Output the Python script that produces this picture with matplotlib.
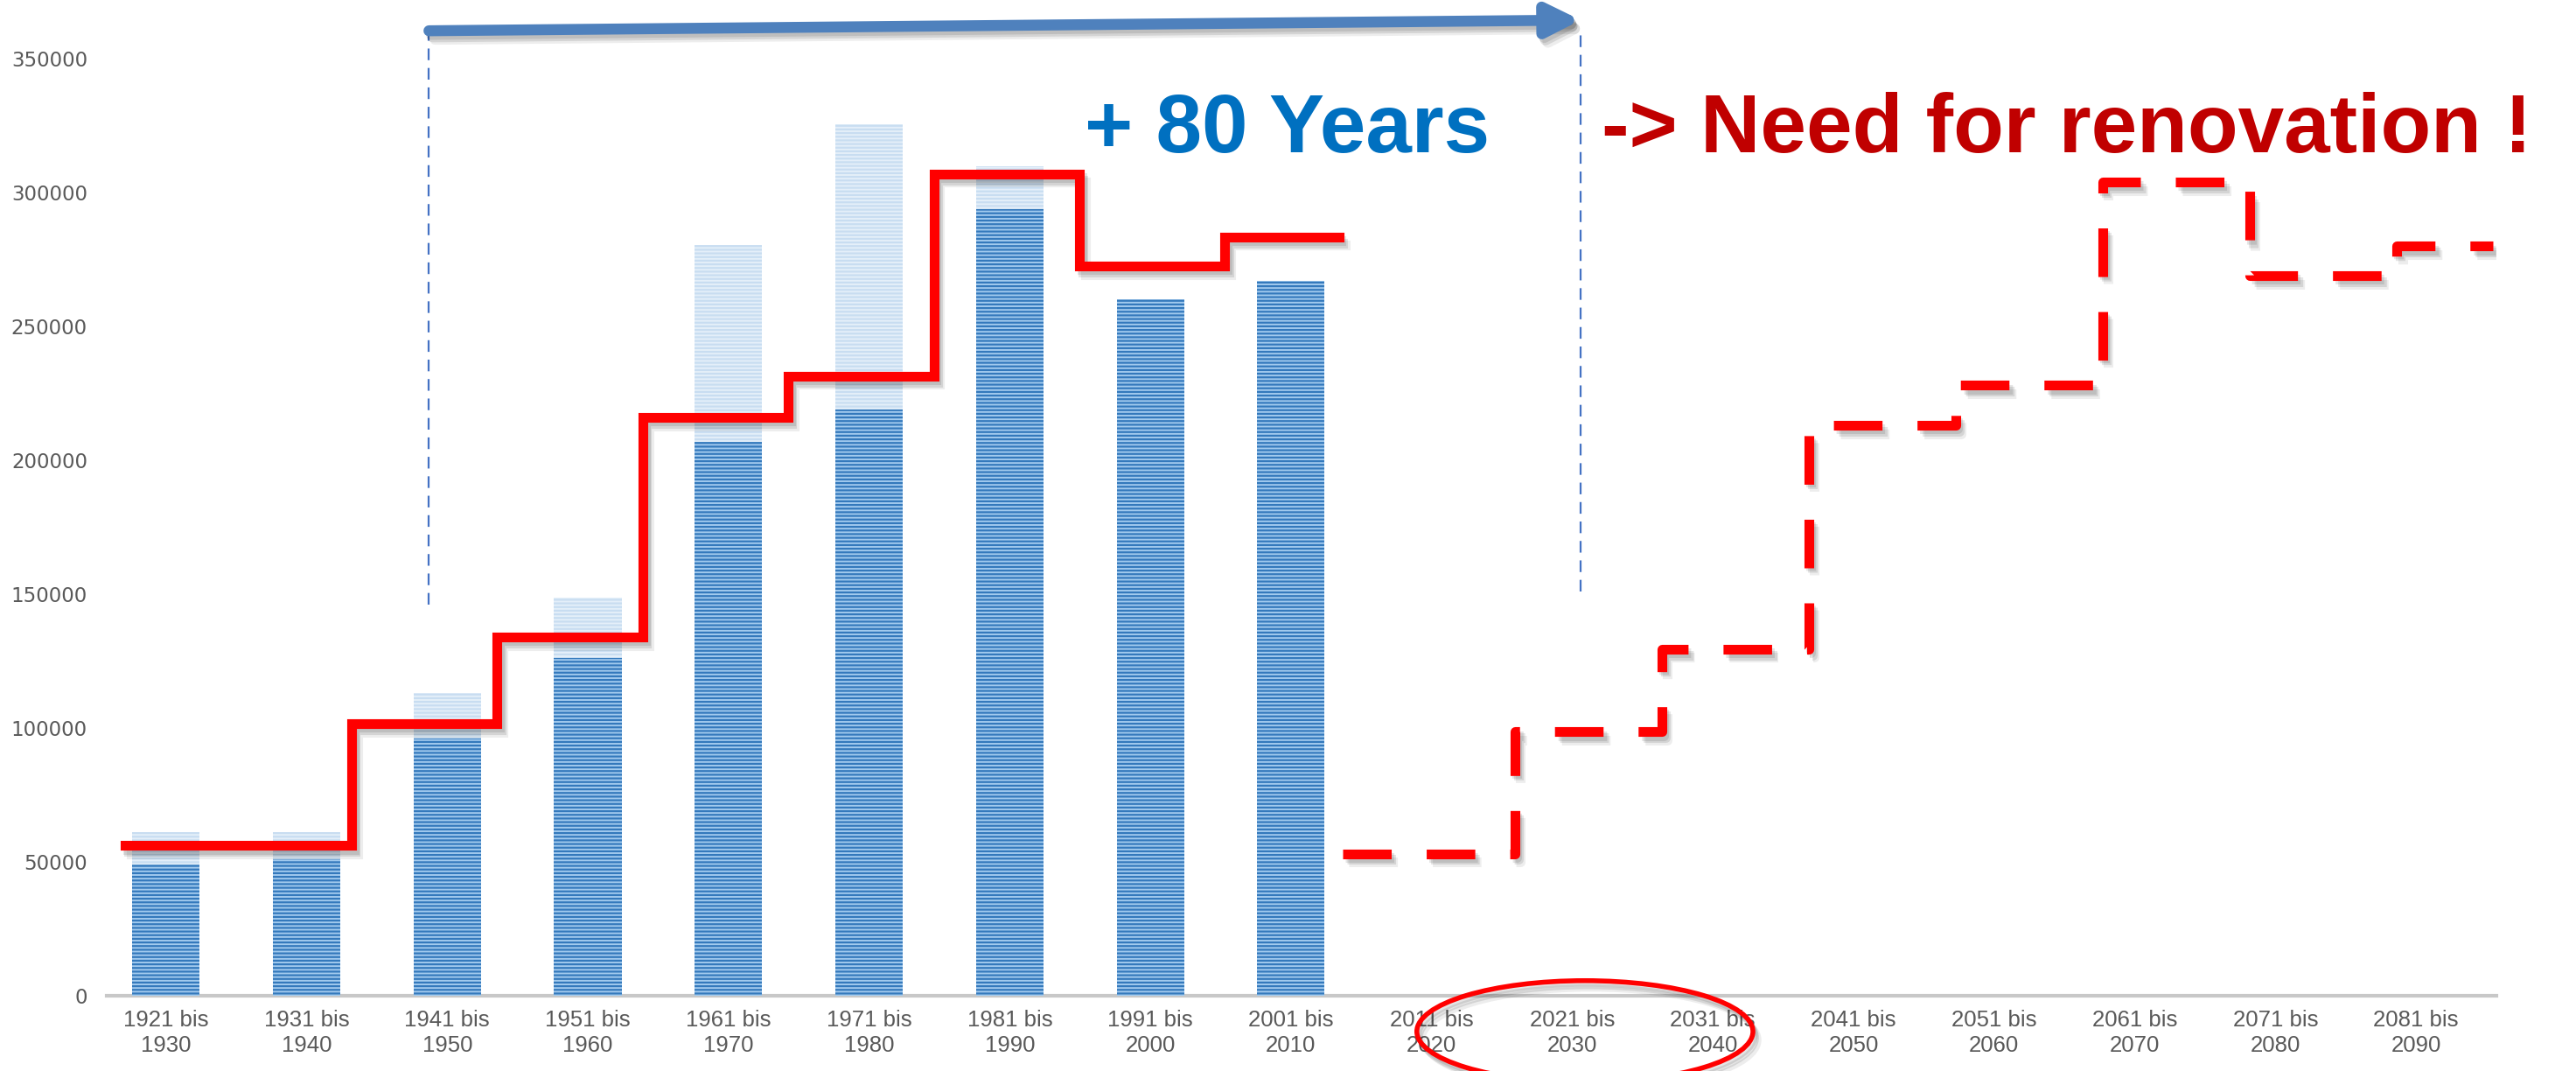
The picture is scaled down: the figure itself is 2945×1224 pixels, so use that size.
import matplotlib
matplotlib.use("Agg")
import matplotlib.pyplot as plt
import matplotlib.patheffects as pe
from matplotlib.patches import Ellipse, FancyArrowPatch
import numpy as np

# categories (decades)
labels = ["1921 bis\n1930", "1931 bis\n1940", "1941 bis\n1950", "1951 bis\n1960",
          "1961 bis\n1970", "1971 bis\n1980", "1981 bis\n1990", "1991 bis\n2000",
          "2001 bis\n2010", "2011 bis\n2020", "2021 bis\n2030", "2031 bis\n2040",
          "2041 bis\n2050", "2051 bis\n2060", "2061 bis\n2070", "2071 bis\n2080",
          "2081 bis\n2090"]

# built dwellings per decade (dark part and light upper part of the bars)
built_dark = [49000, 51000, 96000, 126000, 207000, 219000, 294000, 260000, 267000]
built_light = [61000, 61000, 113000, 148500, 280500, 325500, 310000, 260000, 267000]

# renovation curve: solid for the past, dashed for the forecast
renov_solid = [56000, 56000, 101500, 134000, 216000, 231500, 307000, 272500, 283500]
renov_dashed = [53000, 98500, 129500, 213000, 228000, 304000, 269000, 280000]

yticks = [0, 50000, 100000, 150000, 200000, 250000, 300000, 350000]

fig = plt.figure(figsize=(29.45, 12.24), dpi=100)
ax = fig.add_axes([0.0415, 0.0706, 0.9275, 0.9294])

x = np.arange(len(labels))
bw = 0.48
plt.rcParams["hatch.linewidth"] = 1.6
ax.bar(x[:len(built_light)], built_light, width=bw, color="#E4EFF9", edgecolor="#C8DDF1",
       hatch="----", linewidth=0, zorder=2)
ax.bar(x[:len(built_dark)], built_dark, width=bw, color="#A2CAEE", edgecolor="#3479BC",
       hatch="----", linewidth=0, zorder=3)

# soft drop shadow
shadow = [pe.SimpleLineShadow(offset=(5, -7), shadow_color="k", alpha=0.07),
          pe.SimpleLineShadow(offset=(3, -5), shadow_color="k", alpha=0.10),
          pe.SimpleLineShadow(offset=(2, -3), shadow_color="k", alpha=0.10),
          pe.Normal()]

# solid step line
n = len(renov_solid)
edges = [-0.29] + [i - 0.68 + 0.035 * (i - 2) for i in range(1, n)] + [8.34]
xs, ys = [], []
for i, v in enumerate(renov_solid):
    xs += [edges[i], edges[i + 1]]
    ys += [v, v]
ax.plot(xs, ys, color="#FF0000", lw=8, solid_joinstyle="miter", zorder=5, path_effects=shadow)

# dashed step line
m = len(renov_dashed)
c0 = len(renov_solid)
dedges = [8.37] + [c - 0.41 + 0.045 * (c - 10) for c in range(c0 + 1, c0 + m)] + [16.55]
xs, ys = [], []
for j, v in enumerate(renov_dashed):
    xs += [dedges[j], dedges[j + 1]]
    ys += [v, v]
ax.plot(xs, ys, color="#FF0000", lw=8, dashes=(5, 3.6), solid_joinstyle="miter",
        zorder=5, path_effects=shadow)

ax.set_xlim(-0.42, 16.57)
ax.set_ylim(0, 372000)
ax.set_xticks(x)
ax.set_xticklabels(labels, fontsize=18.5, color="#595959", family="Liberation Sans",
                   linespacing=1.25)
ax.set_yticks(yticks)
ax.set_yticklabels([str(t) for t in yticks], fontsize=16.5, color="#595959")
ax.tick_params(axis="both", length=0)
ax.tick_params(axis="y", pad=16)
ax.tick_params(axis="x", pad=12)
for s in ["top", "right", "left"]:
    ax.spines[s].set_visible(False)
ax.spines["bottom"].set_color("#C8C8C8")
ax.spines["bottom"].set_linewidth(3)

# 80 years span
for xv, ybot in [(1.87, 146000), (10.06, 151000)]:
    ax.plot([xv, xv], [ybot, 361000], color="#4472C4", lw=1.6, ls=(0, (6, 4)),
            clip_on=False, zorder=4)
arrow = FancyArrowPatch((1.87, 360500), (10.06, 364500), arrowstyle="-|>",
                        mutation_scale=55, lw=9, color="#4F81BD", clip_on=False,
                        zorder=6, shrinkA=0, shrinkB=0, path_effects=shadow)
ax.add_patch(arrow)

ax.text(7.97, 323000, "+ 80 Years", color="#0070C0", fontsize=68, fontweight="bold",
        family="Liberation Sans", ha="center", va="center", zorder=7)
ax.text(10.21, 323000, "-> Need for renovation !", color="#C00000", fontsize=68,
        fontweight="bold", family="Liberation Sans", ha="left", va="center", zorder=7,
        clip_on=False)

ell = Ellipse((10.09, -13500), 2.39, 38000, fill=False, edgecolor="#FF0000", lw=4,
              clip_on=False, zorder=7, path_effects=shadow)
ax.add_patch(ell)

fig.savefig("out.png", dpi=100)
